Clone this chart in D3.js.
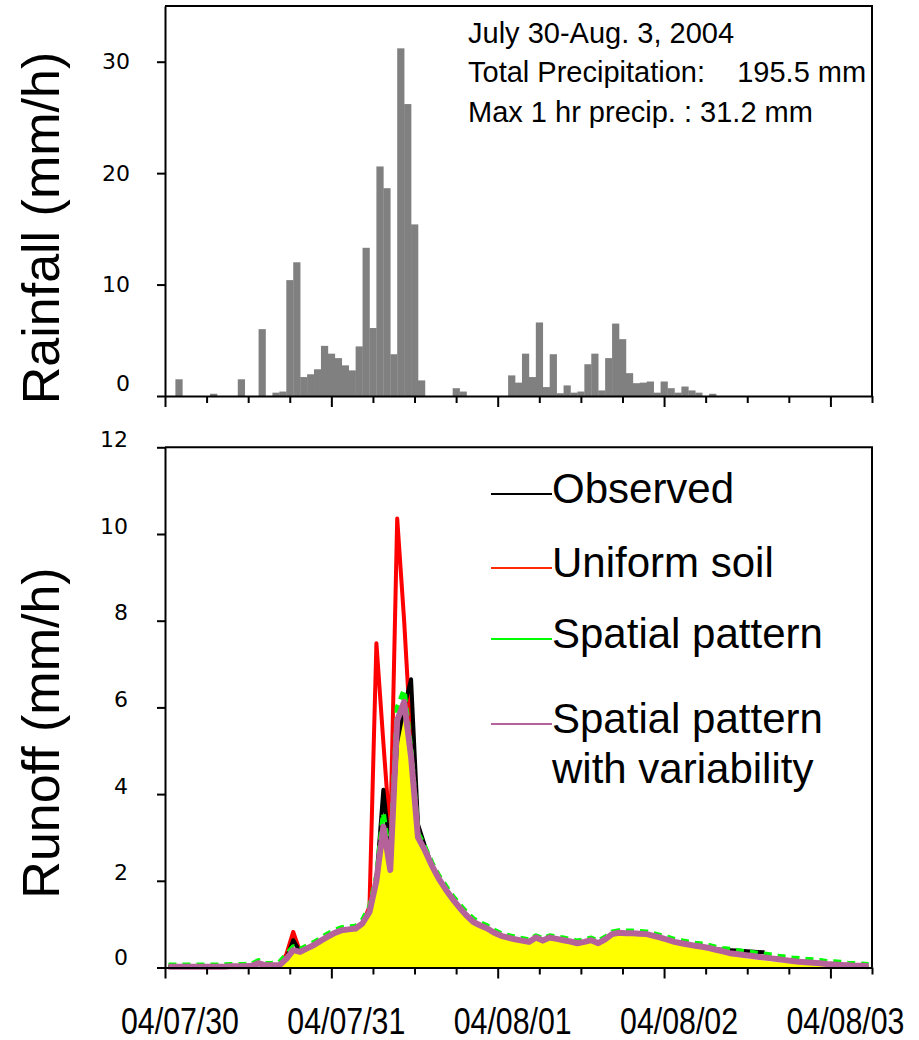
<!DOCTYPE html>
<html lang="en">
<head>
<meta charset="utf-8">
<title>Rainfall and runoff, July 30 - Aug. 3, 2004</title>
<script src="https://cdnjs.cloudflare.com/ajax/libs/d3/7.8.5/d3.min.js"></script>
<style>
  body { margin: 0; background: #fff; }
  svg text { font-family: "Liberation Sans", Arial, sans-serif; fill: #000; }
  .axis .tick text { font-family: "DejaVu Sans", Verdana, sans-serif; font-size: 22px; fill: #000; }
  .axis path, .axis line { stroke: #000; stroke-width: 2; }
  .frame { fill: none; stroke: #000; stroke-width: 2; }
</style>
</head>
<body>
<svg id="chart" width="919" height="1040"></svg>
<script>
// hourly rainfall (mm/h), hour 0 = 04/07/30 00:00
const rainfall = [
  0, 0, 1.5, 0, 0, 0, 0, 0.2, 0, 0,
  0, 1.5, 0, 0, 6.0, 0, 0.3, 0.4, 10.4, 12.0,
  1.7, 1.95, 2.4, 4.5, 3.8, 3.4, 2.75, 2.3, 4.45, 13.3,
  6.1, 20.6, 18.65, 3.75, 31.2, 26.2, 15.4, 1.4, 0, 0,
  0, 0, 0.7, 0.4, 0, 0, 0, 0, 0, 0,
  1.85, 1.2, 3.8, 1.7, 6.6, 0.8, 3.75, 0.25, 0.95, 0.3,
  0.4, 2.85, 3.8, 0.5, 3.4, 6.5, 5.1, 2.05, 1.15, 1.2,
  1.3, 0.3, 1.3, 0.7, 0.3, 0.85, 0.5, 0.3, 0, 0.2
];

// runoff (mm/h), one value per hour, plotted at mid-hour
const observed = [
  0.02, 0.02, 0.02, 0.02, 0.02, 0.02, 0.02, 0.02, 0.02, 0.03,
  0.03, 0.03, 0.04, 0.08, 0.05, 0.05, 0.05, 0.20, 0.63, 0.36,
  0.44, 0.52, 0.62, 0.71, 0.80, 0.86, 0.88, 0.90, 1.02, 1.28,
  2.00, 4.10, 2.60, 5.20, 6.00, 6.65, 3.30, 2.80, 2.35, 2.05,
  1.80, 1.58, 1.38, 1.20, 1.05, 0.97, 0.90, 0.80, 0.73, 0.69,
  0.65, 0.62, 0.59, 0.69, 0.62, 0.69, 0.66, 0.63, 0.60, 0.56,
  0.59, 0.63, 0.56, 0.65, 0.77, 0.80, 0.79, 0.79, 0.78, 0.77,
  0.73, 0.69, 0.64, 0.59, 0.56, 0.53, 0.50, 0.48, 0.45, 0.42,
  0.41, 0.40, 0.39, 0.38, 0.37, 0.36, 0.35, null, null, null,
  null, null, null, null, null, null, null, null, null, null,
  null, null
];
const uniformSoil = [
  0.02, 0.02, 0.02, 0.02, 0.02, 0.02, 0.02, 0.02, 0.02, 0.03,
  0.03, 0.03, 0.04, 0.10, 0.05, 0.05, 0.05, 0.30, 0.82, 0.36,
  0.44, 0.52, 0.62, 0.71, 0.80, 0.86, 0.88, 0.90, 1.02, 1.40,
  7.48, 5.20, 3.00, 10.36, 8.00, 5.20, 3.00, 2.70, 2.35, 2.05,
  1.80, 1.58, 1.38, 1.20, 1.05, 0.97, 0.90, 0.80, 0.73, 0.69,
  0.65, 0.62, 0.59, 0.69, 0.62, 0.69, 0.66, 0.63, 0.60, 0.56,
  0.59, 0.63, 0.56, 0.65, 0.77, 0.80, 0.79, 0.79, 0.78, 0.77,
  0.73, 0.69, 0.64, 0.59, 0.56, 0.53, 0.50, 0.48, 0.45, 0.41,
  0.37, 0.33, 0.31, 0.29, 0.27, 0.25, 0.23, 0.21, 0.19, 0.17,
  0.15, 0.13, 0.12, 0.11, 0.10, 0.08, 0.07, 0.06, 0.05, 0.04,
  0.04, 0.03
];
const spatialPattern = [
  0.06, 0.06, 0.06, 0.06, 0.06, 0.06, 0.06, 0.06, 0.06, 0.07,
  0.07, 0.07, 0.08, 0.16, 0.09, 0.10, 0.12, 0.30, 0.48, 0.42,
  0.50, 0.58, 0.68, 0.78, 0.86, 0.92, 0.94, 0.95, 1.10, 1.40,
  2.10, 3.56, 2.45, 6.00, 6.40, 5.00, 3.10, 2.78, 2.42, 2.12,
  1.88, 1.65, 1.45, 1.27, 1.12, 1.03, 0.96, 0.86, 0.78, 0.74,
  0.70, 0.67, 0.64, 0.73, 0.67, 0.73, 0.71, 0.68, 0.65, 0.61,
  0.64, 0.68, 0.61, 0.70, 0.82, 0.85, 0.84, 0.84, 0.83, 0.82,
  0.78, 0.74, 0.70, 0.65, 0.62, 0.59, 0.56, 0.54, 0.51, 0.47,
  0.44, 0.42, 0.39, 0.37, 0.35, 0.33, 0.31, 0.29, 0.26, 0.24,
  0.22, 0.21, 0.19, 0.18, 0.16, 0.14, 0.13, 0.12, 0.10, 0.09,
  0.08, 0.07
];
const spatialVariability = [
  0.02, 0.02, 0.02, 0.02, 0.02, 0.02, 0.02, 0.02, 0.02, 0.03,
  0.03, 0.03, 0.04, 0.10, 0.05, 0.05, 0.05, 0.20, 0.40, 0.36,
  0.44, 0.52, 0.62, 0.71, 0.80, 0.86, 0.88, 0.90, 1.02, 1.28,
  2.00, 3.25, 2.25, 5.70, 6.13, 4.86, 3.00, 2.70, 2.35, 2.05,
  1.80, 1.58, 1.38, 1.20, 1.05, 0.97, 0.90, 0.80, 0.73, 0.69,
  0.65, 0.62, 0.59, 0.69, 0.62, 0.69, 0.66, 0.63, 0.60, 0.56,
  0.59, 0.63, 0.56, 0.65, 0.77, 0.80, 0.79, 0.79, 0.78, 0.77,
  0.73, 0.69, 0.64, 0.59, 0.56, 0.53, 0.50, 0.48, 0.45, 0.41,
  0.37, 0.33, 0.31, 0.29, 0.27, 0.25, 0.23, 0.21, 0.19, 0.17,
  0.15, 0.13, 0.12, 0.11, 0.10, 0.08, 0.07, 0.06, 0.05, 0.04,
  0.04, 0.03
];
// yellow shaded area under the hydrograph
const shadedRunoff = [
  0, 0, 0, 0, 0, 0, 0, 0, 0, 0,
  0, 0, 0, 0, 0, 0, 0, 0.20, 0.38, 0.34,
  0.42, 0.50, 0.60, 0.69, 0.78, 0.84, 0.86, 0.88, 1.00, 1.25,
  1.95, 3.10, 2.20, 5.50, 5.90, 4.70, 2.95, 2.65, 2.30, 2.00,
  1.75, 1.54, 1.34, 1.16, 1.02, 0.94, 0.87, 0.77, 0.70, 0.66,
  0.62, 0.59, 0.56, 0.65, 0.59, 0.65, 0.63, 0.60, 0.57, 0.53,
  0.56, 0.60, 0.53, 0.62, 0.74, 0.77, 0.76, 0.75, 0.74, 0.72,
  0.68, 0.64, 0.59, 0.54, 0.51, 0.48, 0.45, 0.42, 0.39, 0.35,
  0.31, 0.27, 0.25, 0.22, 0.20, 0.18, 0.16, 0.14, 0.12, 0.11,
  0.09, 0.08, 0.07, 0.06, 0.05, 0.04, 0.03, 0.03, 0.02, 0.02,
  0.01, 0.01
];

const runoffTimes = d3.range(0.5, 102, 1);
const dayTicks = [0, 24, 48, 72, 96];
const dayLabels = ["04/07/30", "04/07/31", "04/08/01", "04/08/02", "04/08/03"];
const rainTicks = [0, 10, 20, 30];
const runoffTicks = [0, 2, 4, 6, 8, 10, 12];
const infoLines = ["July 30-Aug. 3, 2004", "Total Precipitation:    195.5 mm", "Max 1 hr precip. : 31.2 mm"];

const legendItems = [
  {lines: ["Observed"], color: "#000000"},
  {lines: ["Uniform soil"], color: "#ff2a00"},
  {lines: ["Spatial pattern"], color: "#00ff00"},
  {lines: ["Spatial pattern", "with variability"], color: "#b5629a"}
];

const svg = d3.select("#chart");

const x = d3.scaleLinear().domain([0, 102]).range([165, 872]);
const yRain = d3.scaleLinear().domain([0, 35]).range([396, 6]);
const yRun = d3.scaleLinear().domain([0, 12]).range([967.5, 447.3]);

function timeAxis(y0) {
  const g = svg.append("g")
    .attr("class", "axis")
    .attr("transform", "translate(0," + y0 + ")")
    .call(d3.axisBottom(x).tickValues(d3.range(0, 103, 6)).tickSize(7).tickSizeOuter(0).tickFormat(""));
  // longer ticks at each day
  g.selectAll(".tick line").filter(d => d % 24 === 0).attr("y2", 11);
  return g;
}

// ---------- rainfall panel ----------
const barW = x(1) - x(0);
svg.append("g").selectAll("rect")
  .data(rainfall.map((v, i) => ({h: i, v: v})).filter(d => d.v > 0))
  .join("rect")
    .attr("x", d => x(d.h - 0.5))
    .attr("width", barW + 0.3)
    .attr("y", d => yRain(d.v))
    .attr("height", d => yRain(0) - yRain(d.v))
    .attr("fill", "#808080");

svg.append("path").attr("class", "frame")
  .attr("d", "M" + x(0) + "," + yRain(35) + "H" + x(102) + "V" + yRain(0));

timeAxis(yRain(0));

const yRainAxis = svg.append("g")
  .attr("class", "axis")
  .attr("transform", "translate(" + x(0) + ",0)")
  .call(d3.axisLeft(yRain).tickValues(rainTicks).tickSize(8).tickPadding(27).tickSizeOuter(0));
yRainAxis.selectAll(".tick text").attr("y", d => d === 0 ? -13 : 0);

svg.append("g").selectAll("text")
  .data(infoLines)
  .join("text")
    .attr("x", 468)
    .attr("y", (d, i) => 43 + i * 39.3)
    .attr("font-size", 29)
    .style("white-space", "pre")
    .text(d => d);

svg.append("text")
  .attr("transform", "translate(59," + 228 + ") rotate(-90)")
  .attr("text-anchor", "middle")
  .attr("font-size", 52)
  .text("Rainfall (mm/h)");

// ---------- runoff panel ----------
svg.append("path")
  .datum(shadedRunoff)
  .attr("fill", "#ffff00")
  .attr("d", d3.area()
    .x((d, i) => x(runoffTimes[i]))
    .y0(yRun(0))
    .y1(d => yRun(d)));

function drawLine(values, color, width, dash) {
  svg.append("path")
    .datum(values)
    .attr("fill", "none")
    .attr("stroke", color)
    .attr("stroke-width", width)
    .attr("stroke-linejoin", "round")
    .attr("stroke-dasharray", dash || null)
    .attr("d", d3.line()
      .defined(d => d !== null)
      .x((d, i) => x(runoffTimes[i]))
      .y(d => yRun(d)));
}

drawLine(uniformSoil, "#ff0000", 4);
drawLine(observed, "#000000", 4);
drawLine(spatialPattern, "#00ff00", 5, "8,6");
drawLine(spatialVariability, "#b5629a", 6);

svg.append("path").attr("class", "frame")
  .attr("d", "M" + x(0) + "," + yRun(12) + "H" + x(102) + "V" + yRun(0));

timeAxis(yRun(0));

const yRunAxis = svg.append("g")
  .attr("class", "axis")
  .attr("transform", "translate(" + x(0) + ",0)")
  .call(d3.axisLeft(yRun).tickValues(runoffTicks).tickSize(8).tickPadding(29).tickSizeOuter(0));
yRunAxis.selectAll(".tick text").attr("y", d => d === 0 ? -10 : -8);

// day labels, squeezed horizontally like the original
const dayGroups = svg.append("g")
  .selectAll("g")
  .data(dayTicks)
  .join("g")
    .attr("transform", d => "translate(" + (x(d) + 15) + "," + (yRun(0) + 66) + ")");
dayGroups.append("text")
  .attr("text-anchor", "middle")
  .attr("font-family", "'DejaVu Sans', Verdana, sans-serif")
  .attr("font-size", 37)
  .text((d, i) => dayLabels[i])
  .attr("transform", function() {
    const w = this.getComputedTextLength();
    return "scale(" + (118 / w) + ",1)";
  });

svg.append("text")
  .attr("transform", "translate(59," + 733 + ") rotate(-90)")
  .attr("text-anchor", "middle")
  .attr("font-size", 52)
  .text("Runoff (mm/h)");

// legend
const legendBase = [503, 577, 648, 733];
const legend = svg.append("g");
legendItems.forEach((item, i) => {
  const y0 = legendBase[i];
  legend.append("line")
    .attr("x1", 491).attr("x2", 552)
    .attr("y1", y0 - 9).attr("y2", y0 - 9)
    .attr("stroke", item.color)
    .attr("stroke-width", 2);
  item.lines.forEach((t, j) => {
    legend.append("text")
      .attr("x", 552)
      .attr("y", y0 + j * 50)
      .attr("font-size", 42)
      .text(t);
  });
});
</script>
</body>
</html>
